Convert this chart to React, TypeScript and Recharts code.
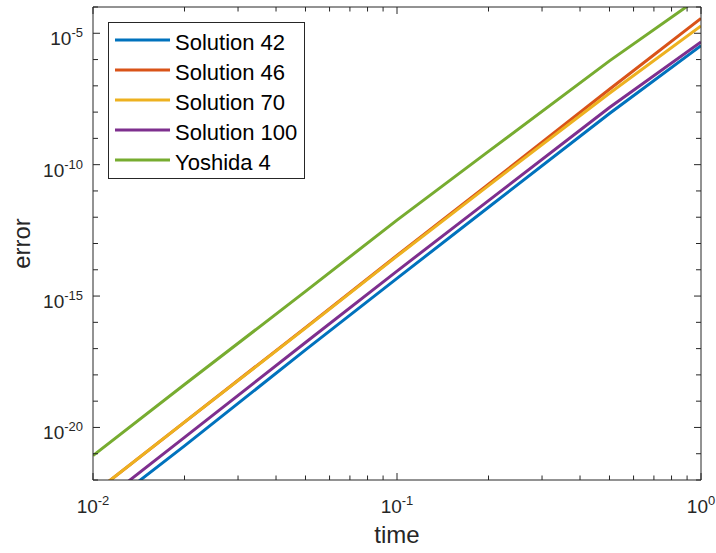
import React from 'react';
import { LineChart, Line, XAxis, YAxis, Legend } from 'recharts';

// time step h and the error for each integrator
const timeSteps = [0.01, 0.02, 0.05, 0.1, 0.2, 0.5, 1];
const solution42 = [4.0e-24, 2.0e-21, 8.9e-18, 4.7e-15, 2.4e-12, 8.9e-9, 3.4e-6];
const solution46 = [3.0e-23, 1.6e-20, 6.3e-17, 3.5e-14, 1.8e-11, 7.4e-8, 3.7e-5];
const solution70 = [3.0e-23, 1.6e-20, 6.0e-17, 3.3e-14, 1.6e-11, 5.2e-8, 1.9e-5];
const solution100 = [7.9e-24, 4.2e-21, 1.7e-17, 8.9e-15, 4.3e-12, 1.5e-8, 4.7e-6];
const yoshida4 = [8.5e-22, 4.3e-19, 1.5e-15, 7.8e-13, 3.2e-10, 8.9e-7, 2.5e-4];

const xTicks = [0.01, 0.02, 0.03, 0.04, 0.05, 0.06, 0.07, 0.08, 0.09, 0.1, 0.2, 0.3, 0.4, 0.5, 0.6, 0.7, 0.8, 0.9, 1];
const yTicks = [1e-22, 1e-21, 1e-20, 1e-19, 1e-18, 1e-17, 1e-16, 1e-15, 1e-14, 1e-13, 1e-12, 1e-11, 1e-10, 1e-9, 1e-8, 1e-7, 1e-6, 1e-5, 1e-4];
const yLabelled = [-20, -15, -10, -5];

const series = [
  { key: 's42', name: 'Solution 42', values: solution42, color: '#0072BD' },
  { key: 's46', name: 'Solution 46', values: solution46, color: '#D95319' },
  { key: 's70', name: 'Solution 70', values: solution70, color: '#EDB120' },
  { key: 's100', name: 'Solution 100', values: solution100, color: '#7E2F8E' },
  { key: 'y4', name: 'Yoshida 4', values: yoshida4, color: '#77AC30' },
];

const data = timeSteps.map((t, i) => {
  const row: any = { time: t };
  series.forEach((s) => { row[s.key] = s.values[i]; });
  return row;
});

const AXIS = '#262626';

const expOf = (v: number) => Math.round(Math.log10(v));
const isDecade = (v: number) => Math.abs(Math.log10(v) - expOf(v)) < 1e-6;

const BottomTick = ({ x, y, payload }: any) => {
  const v = payload.value;
  const major = isDecade(v);
  return (
    <g>
      <line x1={x} x2={x} y1={y} y2={y - (major ? 7 : 4.5)} stroke={AXIS} />
      {major && (
        <text x={x} y={y + 33} textAnchor="middle" fontSize={19} fill={AXIS}>
          10<tspan dy={-8} fontSize={13}>{expOf(v)}</tspan>
        </text>
      )}
    </g>
  );
};

const TopTick = ({ x, y, payload }: any) => (
  <line x1={x} x2={x} y1={y} y2={y + (isDecade(payload.value) ? 7 : 4.5)} stroke={AXIS} />
);

const LeftTick = ({ x, y, payload }: any) => {
  const e = expOf(payload.value);
  const major = yLabelled.includes(e);
  return (
    <g>
      <line x1={x} x2={x + (major ? 7 : 5)} y1={y} y2={y} stroke={AXIS} />
      {major && (
        <text x={x - 10} y={y + 12} textAnchor="end" fontSize={19} fill={AXIS}>
          10<tspan dy={-8} fontSize={13}>{e}</tspan>
        </text>
      )}
    </g>
  );
};

const RightTick = ({ x, y, payload }: any) => {
  const major = yLabelled.includes(expOf(payload.value));
  return <line x1={x} x2={x - (major ? 7 : 5)} y1={y} y2={y} stroke={AXIS} />;
};

const ErrorLabel = ({ viewBox }: any) => {
  const cx = viewBox.x - 62;
  const cy = viewBox.y + viewBox.height / 2;
  return (
    <text x={cx} y={cy} transform={`rotate(-90, ${cx}, ${cy})`} textAnchor="middle" fontSize={24} fill={AXIS}>
      error
    </text>
  );
};

const LegendBox = () => (
  <svg width={197} height={157} style={{ display: 'block' }}>
    <rect x={0.5} y={0.5} width={196} height={156} fill="#fff" stroke={AXIS} />
    {series.map((s, i) => (
      <g key={s.key}>
        <line x1={7} x2={62} y1={18 + i * 30} y2={18 + i * 30} stroke={s.color} strokeWidth={3} />
        <text x={67} y={27.5 + i * 30} fontSize={22} fill="#000">{s.name}</text>
      </g>
    ))}
  </svg>
);

export default function App() {
  return (
    <div style={{ position: 'absolute', left: 0, top: 0, fontFamily: '"Liberation Sans", Arial, sans-serif' }}>
      <LineChart width={716} height={553} data={data} margin={{ top: 6, right: 14, bottom: 72, left: 92 }}>
        <XAxis
          dataKey="time"
          type="number"
          scale="log"
          domain={[0.01, 1]}
          ticks={xTicks}
          interval={0}
          height={1}
          tickSize={0}
          tickMargin={0}
          tick={<BottomTick />}
          axisLine={{ stroke: AXIS }}
          tickLine={false}
          allowDataOverflow
          label={{ value: 'time', position: 'bottom', offset: 45, fontSize: 24, fill: AXIS }}
        />
        <XAxis
          xAxisId="top"
          orientation="top"
          dataKey="time"
          type="number"
          scale="log"
          domain={[0.01, 1]}
          ticks={xTicks}
          interval={0}
          height={1}
          tickSize={0}
          tickMargin={0}
          tick={<TopTick />}
          axisLine={{ stroke: AXIS }}
          tickLine={false}
          allowDataOverflow
        />
        <YAxis
          type="number"
          scale="log"
          domain={[1e-22, 1e-4]}
          ticks={yTicks}
          interval={0}
          width={1}
          tickSize={0}
          tickMargin={0}
          tick={<LeftTick />}
          axisLine={{ stroke: AXIS }}
          tickLine={false}
          allowDataOverflow
          label={{ content: <ErrorLabel /> }}
        />
        <YAxis
          yAxisId="right"
          orientation="right"
          type="number"
          scale="log"
          domain={[1e-22, 1e-4]}
          ticks={yTicks}
          interval={0}
          width={1}
          tickSize={0}
          tickMargin={0}
          tick={<RightTick />}
          axisLine={{ stroke: AXIS }}
          tickLine={false}
          allowDataOverflow
        />
        <Legend
          layout="vertical"
          align="center"
          verticalAlign="middle"
          content={<LegendBox />}
          wrapperStyle={{ left: 108, top: 22, width: 197, height: 157 }}
        />
        {series.map((s) => (
          <Line
            key={s.key}
            dataKey={s.key}
            name={s.name}
            type="linear"
            stroke={s.color}
            strokeWidth={3}
            dot={false}
            activeDot={false}
            isAnimationActive={false}
          />
        ))}
      </LineChart>
    </div>
  );
}
